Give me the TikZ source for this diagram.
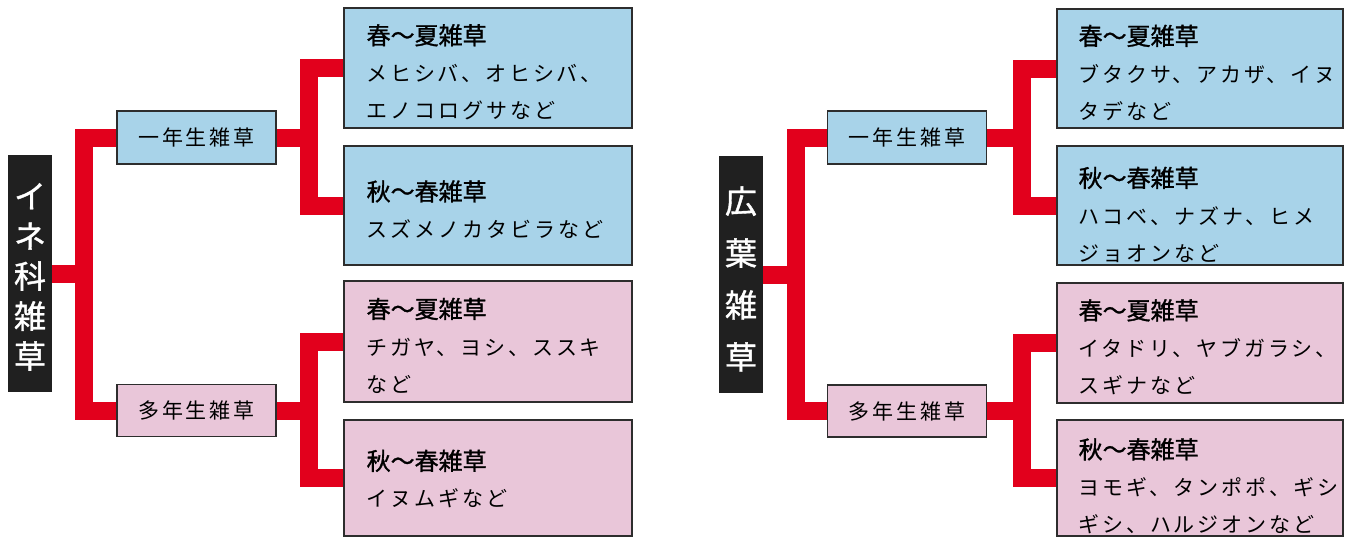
\documentclass[tikz,border=0pt]{standalone}
\usepackage{fontspec}
\newfontfamily\jp{Noto Sans CJK JP}
\newfontfamily\jpm{Noto Sans CJK JP}[FakeBold=1.2]
\newfontfamily\jpw{Noto Sans CJK JP}[LetterSpace=14]
\definecolor{leafblue}{RGB}{168,211,233}
\definecolor{leafpink}{RGB}{233,198,217}
\definecolor{conred}{RGB}{226,0,28}
\definecolor{rootblack}{RGB}{32,32,32}
\definecolor{frame}{RGB}{45,45,45}
\begin{document}
\begin{tikzpicture}[x=1pt,y=-1pt,
  boxline/.style={draw=frame, line width=1.1pt},
  leafbox/.style={boxline, inner sep=0pt},
  leaftext/.style={anchor=west, inner sep=0pt, align=left, font=\jpw\fontsize{21}{37}\selectfont},
  midbox/.style={boxline, minimum width=159pt, minimum height=53pt, inner sep=0pt, font=\jpw\fontsize{21}{21}\selectfont},
  rootbox/.style={fill=rootblack, minimum width=44pt, minimum height=237pt, inner sep=0pt},
  roottext/.style={text=white, align=center, inner sep=0pt},
  redline/.style={draw=conred, line width=18pt, line join=miter}]
\useasboundingbox (0,0) rectangle (1345,538);
\newcommand{\ttl}[1]{{\jpm\fontsize{24}{37}\selectfont #1}}

% ---------- left tree ----------
\node[rootbox] (rootL) at (30,273.5) {};
\node[roottext, font=\jpm\fontsize{32}{40}\selectfont] (rootLt) at (30,277) {イ\\ネ\\科\\雑\\草};
\node[midbox, fill=leafblue] (ichiL) at (196.5,137.5) {一年生雑草};
\node[midbox, fill=leafpink, minimum height=52pt] (taL) at (196.5,410.5) {多年生雑草};
\node[leafbox, fill=leafblue, minimum width=288pt, minimum height=120pt] (L1) at (488,68) {};
\node[leafbox, fill=leafblue, minimum width=288pt, minimum height=119pt] (L2) at (488,205.5) {};
\node[leafbox, fill=leafpink, minimum width=288pt, minimum height=121pt] (L3) at (488,341.5) {};
\node[leafbox, fill=leafpink, minimum width=288pt, minimum height=116pt] (L4) at (488,478) {};
\node[leaftext] (L1t) at ([xshift=23pt,yshift=-4pt]L1.west) {\ttl{春〜夏雑草}\\メヒシバ、オヒシバ、\\エノコログサなど};
\node[leaftext] (L2t) at ([xshift=23pt,yshift=-4pt]L2.west) {\ttl{秋〜春雑草}\\スズメノカタビラなど};
\node[leaftext] (L3t) at ([xshift=23pt,yshift=-4pt]L3.west) {\ttl{春〜夏雑草}\\チガヤ、ヨシ、ススキ\\など};
\node[leaftext] (L4t) at ([xshift=23pt,yshift=-1pt]L4.west) {\ttl{秋〜春雑草}\\イヌムギなど};

\coordinate (JL0) at (83.5,273.5);
\coordinate (JL1) at (309,137.5);
\coordinate (JL2) at (309,410.5);
\draw[redline] (rootL.east) -- (JL0);
\draw[redline] (ichiL.west) -| (JL0) |- (taL.west);
\draw[redline] (ichiL.east) -- (JL1);
\draw[redline] (L1.west) -| (JL1) |- (L2.west);
\draw[redline] (taL.east) -- (JL2);
\draw[redline] (L3.west) -| (JL2) |- (L4.west);

% ---------- right tree ----------
\node[rootbox] (rootR) at (741,274.5) {};
\node[roottext, font=\jpm\fontsize{32}{52}\selectfont] (rootRt) at (741,279) {広\\葉\\雑\\草};
\node[midbox, fill=leafblue] (ichiR) at (907,137.5) {一年生雑草};
\node[midbox, fill=leafpink, minimum height=52pt] (taR) at (907,411) {多年生雑草};
\node[leafbox, fill=leafblue, minimum width=286pt, minimum height=119pt] (R1) at (1200,68.5) {};
\node[leafbox, fill=leafblue, minimum width=286pt, minimum height=119pt] (R2) at (1200,205.5) {};
\node[leafbox, fill=leafpink, minimum width=286pt, minimum height=120pt] (R3) at (1200,343) {};
\node[leafbox, fill=leafpink, minimum width=286pt, minimum height=116pt] (R4) at (1200,478) {};
\node[leaftext] (R1t) at ([xshift=22pt,yshift=-4pt]R1.west) {\ttl{春〜夏雑草}\\ブタクサ、アカザ、イヌ\\タデなど};
\node[leaftext] (R2t) at ([xshift=22pt,yshift=-9pt]R2.west) {\ttl{秋〜春雑草}\\ハコベ、ナズナ、ヒメ\\ジョオンなど};
\node[leaftext] (R3t) at ([xshift=22pt,yshift=-4pt]R3.west) {\ttl{春〜夏雑草}\\イタドリ、ヤブガラシ、\\スギナなど};
\node[leaftext] (R4t) at ([xshift=22pt,yshift=-8pt]R4.west) {\ttl{秋〜春雑草}\\ヨモギ、タンポポ、ギシ\\ギシ、ハルジオンなど};

\coordinate (JR0) at (795.5,274.5);
\coordinate (JR1) at (1022,137.5);
\coordinate (JR2) at (1022,411);
\draw[redline] (rootR.east) -- (JR0);
\draw[redline] (ichiR.west) -| (JR0) |- (taR.west);
\draw[redline] (ichiR.east) -- (JR1);
\draw[redline] (R1.west) -| (JR1) |- (R2.west);
\draw[redline] (taR.east) -- (JR2);
\draw[redline] (R3.west) -| (JR2) |- (R4.west);
\end{tikzpicture}
\end{document}
